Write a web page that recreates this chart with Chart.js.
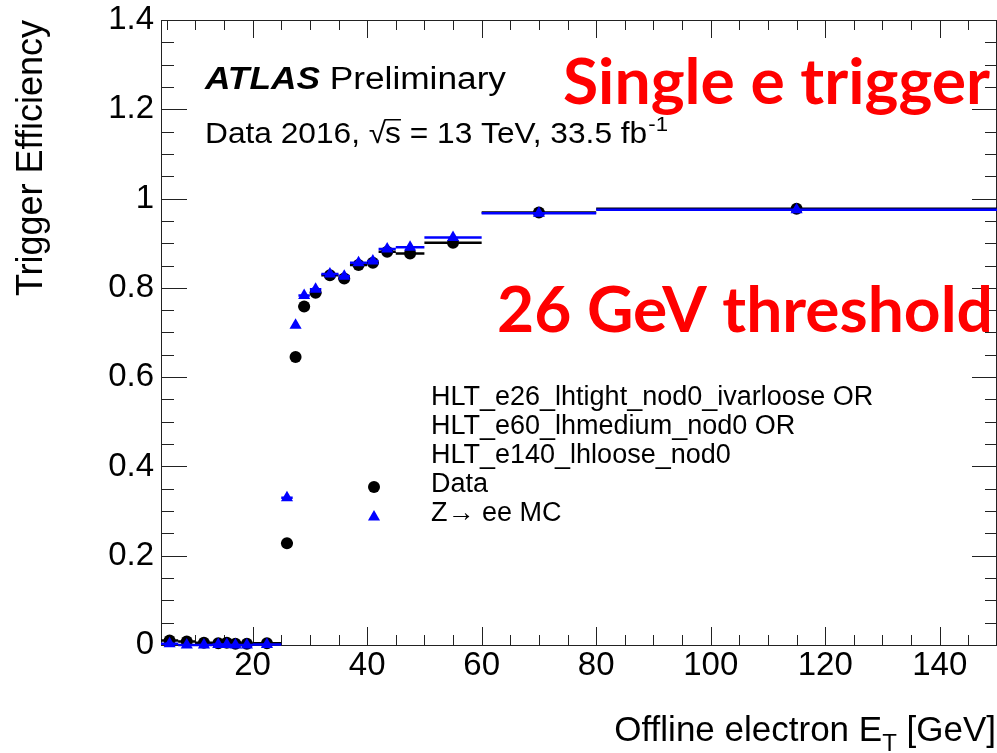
<!DOCTYPE html>
<html>
<head>
<meta charset="utf-8">
<script src="https://cdn.jsdelivr.net/npm/chart.js@4.4.0/dist/chart.umd.min.js"></script>
<style>
html, body { margin: 0; padding: 0; background: #fff; overflow: hidden; }
#wrap { width: 997px; height: 753px; }
</style>
</head>
<body>
<div id="wrap"><canvas id="eff" width="997" height="753"></canvas></div>
<script>
// bin edges, offline electron E_T [GeV]
const binEdges = [4, 7, 10, 13, 15, 16, 18, 20, 25, 27, 28, 30, 32, 35, 37, 40, 42, 45, 50, 60, 80, 150];
// efficiency per bin
const dataEff = [0.010, 0.008, 0.005, 0.004, 0.005, 0.003, 0.003, 0.004, 0.228, 0.645, 0.758, 0.789, 0.828, 0.821, 0.851, 0.856, 0.881, 0.877, 0.901, 0.969, 0.977];
const mcEff = [0.003, 0.000, 0.000, 0.001, 0.001, 0.000, 0.000, 0.001, 0.330, 0.716, 0.783, 0.797, 0.831, 0.826, 0.856, 0.860, 0.887, 0.891, 0.913, 0.967, 0.975];
const xTicks = [20, 40, 60, 80, 100, 120, 140];
const yTicks = [0, 0.2, 0.4, 0.6, 0.8, 1, 1.2, 1.4];
const yTickLabels = ['0', '0.2', '0.4', '0.6', '0.8', '1', '1.2', '1.4'];
const legendLines = ['HLT_e26_lhtight_nod0_ivarloose OR', 'HLT_e60_lhmedium_nod0 OR', 'HLT_e140_lhloose_nod0'];
const seriesNames = ['Data', 'Z\u2192 ee MC'];

const FONT = '"Liberation Sans", Arial, Helvetica, sans-serif';

function toPoints(vals) {
    return vals.map((v, i) => ({ x: (binEdges[i] + binEdges[i + 1]) / 2, y: v }));
}

// draw text squeezed/stretched to a given width
function fitText(ctx, str, x, y, font, width) {
    ctx.font = font;
    const w = ctx.measureText(str).width;
    ctx.save();
    ctx.translate(x, y);
    ctx.scale(width / w, 1);
    ctx.textAlign = 'left';
    ctx.fillText(str, 0, 0);
    ctx.restore();
}

// ROOT style frame with inward ticks on all four sides
const frame = {
    id: 'frame',
    beforeDatasetsDraw(chart) {
        const { ctx, chartArea: a, scales: { x, y } } = chart;
        ctx.save();
        ctx.strokeStyle = '#222';
        ctx.lineWidth = 1;
        ctx.strokeRect(a.left + 0.5, a.top + 0.5, a.right - a.left - 1, a.bottom - a.top);
        ctx.beginPath();
        for (let v = 5; v <= 150; v += 5) {
            const px = Math.round(x.getPixelForValue(v)) + 0.5;
            const len = v % 20 === 0 ? 18 : 10;
            ctx.moveTo(px, a.bottom); ctx.lineTo(px, a.bottom - len);
            ctx.moveTo(px, a.top); ctx.lineTo(px, a.top + len);
        }
        for (let i = 0; i <= 28; i++) {
            const py = Math.round(y.getPixelForValue(i * 0.05)) + 0.5;
            const lenL = i % 4 === 0 ? 26 : 13;
            const lenR = i % 4 === 0 ? 24 : 11;
            ctx.moveTo(a.left, py); ctx.lineTo(a.left + lenL, py);
            ctx.moveTo(a.right - 1, py); ctx.lineTo(a.right - 1 - lenR, py);
        }
        ctx.stroke();
        ctx.restore();
    }
};

// horizontal bars showing the bin width, drawn under each set of markers
const binBars = {
    id: 'binBars',
    beforeDatasetDraw(chart, args) {
        const { ctx, scales: { x, y } } = chart;
        const ds = chart.data.datasets[args.index];
        const vals = args.index === 0 ? dataEff : mcEff;
        ctx.save();
        ctx.strokeStyle = ds.pointBackgroundColor;
        ctx.lineWidth = 2.5;
        ctx.beginPath();
        vals.forEach((v, i) => {
            const py = y.getPixelForValue(v);
            ctx.moveTo(x.getPixelForValue(binEdges[i]), py);
            ctx.lineTo(x.getPixelForValue(binEdges[i + 1]), py);
        });
        ctx.stroke();
        ctx.restore();
    }
};

const labels = {
    id: 'labels',
    afterDraw(chart) {
        const { ctx } = chart;
        ctx.save();
        ctx.fillStyle = '#000';
        ctx.textBaseline = 'alphabetic';
        ctx.textAlign = 'left';

        // ATLAS Preliminary
        const fB = 'italic bold 31px ' + FONT, fR = '31px ' + FONT;
        ctx.font = fB;
        const wA = ctx.measureText('ATLAS').width;
        ctx.font = fR;
        const wP = ctx.measureText(' Preliminary').width;
        ctx.save();
        ctx.translate(205, 89);
        ctx.scale(301 / (wA + wP), 1);
        ctx.font = fB;
        ctx.fillText('ATLAS', 0, 0);
        ctx.font = fR;
        ctx.fillText(' Preliminary', wA, 0);
        ctx.restore();

        // Data 2016, sqrt(s) = 13 TeV, 33.5 fb-1
        const f1 = '30px ' + FONT, f2 = '21px ' + FONT;
        ctx.font = f1;
        const parts = ['Data 2016, ', '\u221A', 's', ' = 13 TeV, 33.5 fb'];
        const pw = parts.map(p => ctx.measureText(p).width);
        ctx.font = f2;
        const supW = ctx.measureText('-1').width;
        const total = pw[0] + pw[1] - 1 + pw[2] + pw[3] + 1 + supW;
        ctx.save();
        ctx.translate(205, 143);
        ctx.scale(463 / total, 1);
        ctx.font = f1;
        let cx = 0;
        ctx.fillText(parts[0], cx, 0); cx += pw[0];
        ctx.fillText(parts[1], cx, 0); cx += pw[1] - 1;
        ctx.fillText(parts[2], cx, 0);
        ctx.fillRect(cx, -24, pw[2], 1.5); cx += pw[2];
        ctx.fillText(parts[3], cx, 0); cx += pw[3] + 1;
        ctx.font = f2;
        ctx.fillText('-1', cx, -12);
        ctx.restore();

        // legend
        ctx.font = '27px ' + FONT;
        const legBase = [405, 434, 463, 492, 521];
        legendLines.forEach((t, i) => ctx.fillText(t, 431, legBase[i]));
        ctx.fillText(seriesNames[0], 431, legBase[3]);
        ctx.fillText(seriesNames[1], 431, legBase[4]);
        const dsets = chart.data.datasets;
        Chart.helpers.drawPoint(ctx, { pointStyle: 'circle', radius: 6, borderWidth: 0 }, 374, 487);
        ctx.fillStyle = dsets[1].pointBackgroundColor;
        Chart.helpers.drawPoint(ctx, { pointStyle: 'triangle', radius: 7, borderWidth: 0 }, 374, 517);
        ctx.fillStyle = '#000';

        // axis titles
        ctx.save();
        ctx.translate(42, 20);
        ctx.rotate(-Math.PI / 2);
        ctx.font = '36px ' + FONT;
        ctx.textAlign = 'right';
        ctx.fillText('Trigger Efficiency', 0, 0);
        ctx.restore();

        ctx.textAlign = 'right';
        let rx = 996;
        ctx.font = '35px ' + FONT;
        ctx.fillText(' [GeV]', rx, 741);
        rx -= ctx.measureText(' [GeV]').width;
        ctx.font = '24px ' + FONT;
        ctx.fillText('T', rx, 751);
        rx -= ctx.measureText('T').width;
        ctx.font = '35px ' + FONT;
        ctx.fillText('Offline electron E', rx, 741);

        // red annotations
        ctx.fillStyle = '#ff0000';
        fitText(ctx, 'Single e trigger', 563, 104, 'bold 64px Lato, "Open Sans", sans-serif', 427);
        fitText(ctx, '26 GeV threshold', 497, 332, 'bold 63px Lato, "Open Sans", sans-serif', 496);
        ctx.restore();
    }
};

const tickFont = { family: FONT, size: 33, lineHeight: 1 };

new Chart(document.getElementById('eff').getContext('2d'), {
    type: 'scatter',
    data: {
        datasets: [{
            label: seriesNames[0],
            data: toPoints(dataEff),
            pointStyle: 'circle',
            pointRadius: 6,
            pointBackgroundColor: '#000000',
            pointBorderWidth: 0,
            order: 2,
            clip: false
        }, {
            label: seriesNames[1],
            data: toPoints(mcEff),
            pointStyle: 'triangle',
            pointRadius: 7,
            pointBackgroundColor: '#0000ff',
            pointBorderWidth: 0,
            order: 1,
            clip: false
        }]
    },
    options: {
        responsive: false,
        devicePixelRatio: 1,
        animation: false,
        events: [],
        layout: { autoPadding: false, padding: { top: 20, right: 0, left: 0, bottom: 0 } },
        plugins: {
            legend: { display: false },
            tooltip: { enabled: false }
        },
        scales: {
            x: {
                type: 'linear',
                min: 4,
                max: 150,
                grid: { display: false, drawTicks: false },
                border: { display: false },
                ticks: { font: tickFont, color: '#000', padding: 4, maxRotation: 0, autoSkip: false },
                afterBuildTicks: s => { s.ticks = xTicks.map(v => ({ value: v })); },
                afterFit: s => { s.height = 108; s.paddingLeft = 0; s.paddingRight = 0; }
            },
            y: {
                type: 'linear',
                min: 0,
                max: 1.4,
                grid: { display: false, drawTicks: false },
                border: { display: false },
                ticks: {
                    font: tickFont, color: '#000', padding: 7,
                    callback: v => yTickLabels[yTicks.indexOf(v)]
                },
                afterBuildTicks: s => { s.ticks = yTicks.map(v => ({ value: v })); },
                afterFit: s => { s.width = 161; s.paddingTop = 0; s.paddingBottom = 0; }
            }
        }
    },
    plugins: [frame, binBars, labels]
});
</script>
</body>
</html>
